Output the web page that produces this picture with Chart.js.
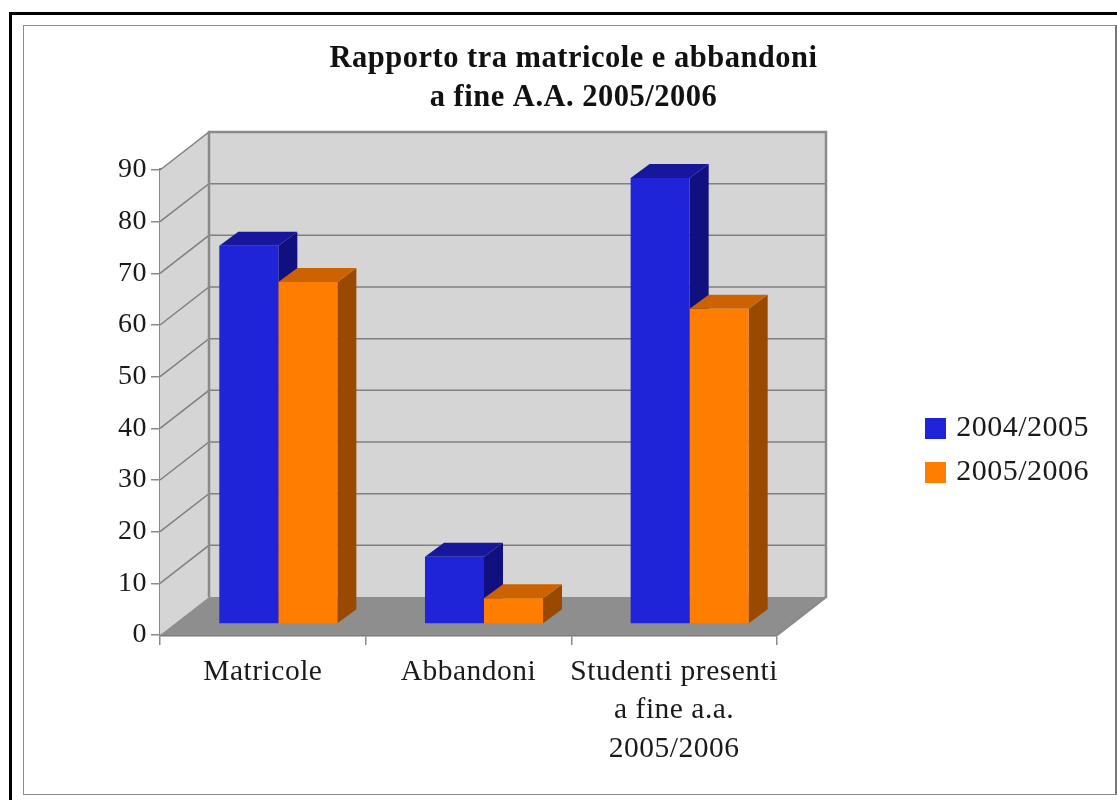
<!DOCTYPE html>
<html><head><meta charset="utf-8">
<style>
html,body{margin:0;padding:0;background:#fff;width:1117px;height:800px;overflow:hidden}
#black{position:absolute;left:9px;top:12px;right:0;bottom:-10px;border-left:3.5px solid #000;border-top:3.5px solid #000}
#frame{position:absolute;left:23px;top:25px;width:1091px;height:768px;border:1.5px solid #8c8c8c;border-right:2px solid #777}
canvas{position:absolute;left:0;top:0;display:block}
</style>
<script src="https://cdn.jsdelivr.net/npm/chart.js@4"></script>
</head><body>
<div id="black"></div><div id="frame"></div>
<canvas id="c" width="1117" height="800"></canvas>
<script>
const categories = [["Matricole"], ["Abbandoni"], ["Studenti presenti", "a fine a.a.", "2005/2006"]];
const seriesNames = ["2004/2005", "2005/2006"];
const values2004 = [73.2, 13, 86.3];
const values2005 = [66.2, 5, 61];
const chartTitle = ["Rapporto tra matricole e abbandoni", "a fine A.A. 2005/2006"];

const SERIF = '"Liberation Serif", serif';
const wallDepth = {x: 49, y: -38};
const barShift = {x: 15.5, y: -11};
const barDepth = {x: 19, y: -14};
const frontColor = ['#1f24d8', '#ff7d00'];
const sideColor = ['#10107e', '#9a4a00'];
const topColor = ['#17179c', '#cc6300'];
const wallFill = '#d5d5d5', floorFill = '#8e8e8e', lineGrey = '#8a8a8a';

const poly = (ctx, pts, fill) => {
  ctx.beginPath();
  pts.forEach((p, i) => i ? ctx.lineTo(p[0], p[1]) : ctx.moveTo(p[0], p[1]));
  ctx.closePath();
  ctx.fillStyle = fill;
  ctx.fill();
};

const scene3d = {
  id: 'scene3d',
  afterInit(chart) { chart.ctx.letterSpacing = '0.5px'; },
  beforeLayout(chart) {
    const l = chart.legend;
    if (!l._fitWrapped) {
      const fit = l.fit;
      l.fit = function () { fit.call(this); this.width = 340; };
      l._fitWrapped = true;
    }
  },
  afterLayout(chart) {
    const l = chart.legend;
    l.left = 911; l.right = 1089; l.top = 399.5; l.bottom = 600;
    chart.titleBlock.left = 30;
  },
  beforeDatasetsDraw(chart) {
    const {ctx, chartArea: a, scales: {y}} = chart;
    const dx = wallDepth.x, dy = wallDepth.y;
    ctx.save();
    // side wall and back wall
    poly(ctx, [[a.left, a.top], [a.left + dx, a.top + dy], [a.left + dx, a.bottom + dy], [a.left, a.bottom]], wallFill);
    poly(ctx, [[a.left + dx, a.top + dy], [a.right + dx, a.top + dy], [a.right + dx, a.bottom + dy], [a.left + dx, a.bottom + dy]], wallFill);
    // floor
    poly(ctx, [[a.left, a.bottom], [a.right, a.bottom], [a.right + dx, a.bottom + dy], [a.left + dx, a.bottom + dy]], floorFill);
    // grid lines along the walls
    ctx.strokeStyle = '#808080';
    ctx.lineWidth = 1.5;
    y.ticks.forEach(t => {
      const py = y.getPixelForValue(t.value);
      if (t.value === 0) return;
      ctx.beginPath();
      ctx.moveTo(a.left, py);
      ctx.lineTo(a.left + dx, py + dy);
      ctx.lineTo(a.right + dx, py + dy);
      ctx.stroke();
    });
    // wall outlines
    ctx.strokeStyle = lineGrey;
    ctx.lineWidth = 2.5;
    ctx.beginPath();
    ctx.moveTo(a.left + dx, a.bottom + dy);
    ctx.lineTo(a.left + dx, a.top + dy);
    ctx.lineTo(a.right + dx, a.top + dy);
    ctx.lineTo(a.right + dx, a.bottom + dy);
    ctx.lineTo(a.right, a.bottom);
    ctx.stroke();
    // depth faces of the bars, blue first so orange covers it
    ctx.translate(barShift.x, barShift.y);
    [0, 1].forEach(i => {
      chart.getDatasetMeta(i).data.forEach(b => {
        const L = b.x - b.width / 2, R = b.x + b.width / 2, T = b.y, B = b.base;
        const bx = barDepth.x, by = barDepth.y;
        poly(ctx, [[R, T], [R + bx, T + by], [R + bx, B + by], [R, B]], sideColor[i]);
        poly(ctx, [[L, T], [L + bx, T + by], [R + bx, T + by], [R, T]], topColor[i]);
      });
    });
    ctx.restore();
  },
  beforeDatasetDraw(chart) {
    chart.ctx.save();
    chart.ctx.translate(barShift.x, barShift.y);
  },
  afterDatasetDraw(chart) { chart.ctx.restore(); }
};

new Chart(document.getElementById('c').getContext('2d'), {
  type: 'bar',
  data: {
    labels: categories,
    datasets: [
      {label: seriesNames[0], data: values2004, backgroundColor: frontColor[0]},
      {label: seriesNames[1], data: values2005, backgroundColor: frontColor[1]}
    ]
  },
  plugins: [scene3d],
  options: {
    responsive: false,
    animation: false,
    events: [],
    categoryPercentage: 0.574,
    barPercentage: 1,
    layout: {padding: 0},
    clip: false,
    scales: {
      x: {
        afterFit(s) { s.height = 165; },
        grid: {offset: true, drawOnChartArea: false, drawTicks: true, tickLength: 10, color: '#8a8a8a', lineWidth: 1.5},
        border: {display: true, color: '#7a7a7a', width: 2.5},
        ticks: {color: '#1a1a1a', font: {family: SERIF, size: 29.5, lineHeight: 1.305}, padding: 8, maxRotation: 0, autoSkip: false}
      },
      y: {
        min: 0, max: 90,
        afterFit(s) { s.width = 160; },
        grid: {drawOnChartArea: false, drawTicks: true, tickLength: 9, color: '#8a8a8a', lineWidth: 1.5},
        border: {display: true, color: '#8a8a8a', width: 3},
        ticks: {stepSize: 10, color: '#1a1a1a', font: {family: SERIF, size: 28}, padding: 4}
      }
    },
    plugins: {
      tooltip: {enabled: false},
      title: {
        display: true,
        text: chartTitle,
        color: '#111',
        font: {family: SERIF, size: 30.5, weight: 'bold', lineHeight: 1.262},
        padding: {top: 40, bottom: 53}
      },
      legend: {
        display: true,
        position: 'right',
        align: 'start',
        labels: {
          boxWidth: 21, boxHeight: 21,
          padding: 14,
          textAlign: 'right',
          color: '#1a1a1a',
          font: {family: SERIF, size: 30}
        }
      }
    }
  }
});
</script>
</body></html>
